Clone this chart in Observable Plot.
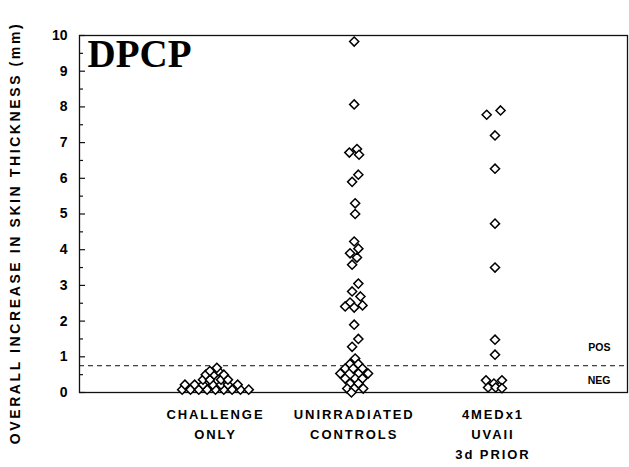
<!DOCTYPE html>
<html><head><meta charset="utf-8">
<script src="https://cdn.jsdelivr.net/npm/d3@7"></script>
<script src="https://cdn.jsdelivr.net/npm/@observablehq/plot@0.6"></script>
<style>
body{margin:0;background:#fff}
.xlab text{letter-spacing:1.9px}
.ylab text{letter-spacing:2.6px}
</style>
</head><body><div id="chart"></div>
<script>
// ---- data ----
const groups = ["CHALLENGE\nONLY", "UNIRRADIATED\nCONTROLS", "4MEDx1\nUVAII\n3d PRIOR"];
const groupPos = [1, 2, 3];

const challengeValues = [0.08,0.08,0.08,0.08,0.08,0.08,0.08,0.08,0.08,
  0.22,0.22,0.22,0.22,0.22,0.22,0.22,
  0.36,0.36,0.36,0.36,
  0.5,0.5,0.5,
  0.6,0.6,
  0.69];
const challengeSpread = [-0.24,-0.18,-0.12,-0.06,0,0.06,0.12,0.18,0.24,
  -0.22,-0.15,-0.09,-0.02,0.04,0.09,0.16,
  -0.09,-0.04,0.04,0.09,
  -0.07,-0.01,0.06,
  -0.04,0.02,
  0.01];

const controlValues = [9.83,8.07,6.72,6.82,6.66,6.1,5.9,5.3,5.0,4.23,4.03,3.9,3.78,3.58,
  3.05,2.83,2.69,2.52,2.41,2.38,2.44,1.9,1.5,1.28,0.95,0.8,0.8,0.67,0.67,0.67,
  0.53,0.53,0.53,0.39,0.39,0.39,0.25,0.25,0.11,0.11,0.11,0.0];
const controlSpread = [0,0,-0.035,0.02,0.035,0.03,-0.015,0.007,0.007,0,0.03,-0.03,0.02,-0.015,
  0.03,-0.015,0.045,-0.03,-0.065,0,0.06,0,0.03,-0.015,0.007,-0.03,0.03,-0.065,-0.007,0.06,
  -0.1,0.03,0.1,-0.065,0.007,0.06,-0.03,0.03,-0.05,0,0.065,-0.02];

const priorValues = [7.78,7.9,7.2,6.27,4.73,3.5,1.48,1.06,0.34,0.34,0.25,0.14,0.14,0.12];
const priorSpread = [-0.045,0.055,0.015,0.015,0.015,0.015,0.015,0.015,-0.05,0.065,0.007,-0.035,0.02,0.065];

const cutoff = 0.75;
const thresholdLabels = ["POS", "NEG"];
const thresholdLabelValues = [1.25, 0.34];
const yTicks = [0,1,2,3,4,5,6,7,8,9,10];
const yMinorTicks = [0.5,1.5,2.5,3.5,4.5,5.5,6.5,7.5,8.5,9.5];
const yLabel = "OVERALL INCREASE IN SKIN THICKNESS (mm)";
const panelTitle = "DPCP";

// ---- table ----
const series = [[challengeValues, challengeSpread], [controlValues, controlSpread], [priorValues, priorSpread]];
const points = series.flatMap(([vals, spread], g) =>
  vals.map((v, i) => ({group: groups[g], x: groupPos[g] + spread[i], y: v})));

const W = 629, H = 467, ML = 79, MR = 2;
const frameW = W - ML - MR;

const chart = Plot.plot({
  width: W, height: H,
  marginLeft: ML, marginRight: MR, marginTop: 35, marginBottom: 75,
  x: {domain: [0.02, 3.97], axis: null},
  y: {domain: [0, 10], axis: null},
  style: {fontFamily: "'Liberation Sans', Arial, sans-serif", fontSize: "13px", color: "#000", background: "#fff"},
  marks: [
    Plot.frame({stroke: "#111", strokeWidth: 1.3}),
    Plot.ruleY([cutoff], {stroke: "#111", strokeWidth: 1, strokeDasharray: "5,4"}),
    // short inward ticks on the left edge
    Plot.tickY(yTicks, {y: d => d, insetRight: frameW - 6, stroke: "#111", strokeWidth: 1.2}),
    Plot.tickY(yMinorTicks, {y: d => d, insetRight: frameW - 4, stroke: "#111", strokeWidth: 1.2}),
    Plot.axisY({ticks: yTicks, tickSize: 0, tickPadding: 12, fontSize: 14, fontWeight: "bold", label: null, fill: "#000"}),
    Plot.dot(points, {x: "x", y: "y", symbol: "diamond2", r: 4.1, stroke: "#000", fill: "#fff", strokeWidth: 1.5}),
    Plot.text(thresholdLabels, {y: (d, i) => thresholdLabelValues[i], text: d => d, frameAnchor: "right", dx: -17, textAnchor: "end", fontSize: 10.5, fontWeight: "bold", fill: "#000"}),
    Plot.text([panelTitle], {frameAnchor: "top-left", dx: 8, dy: 4, textAnchor: "start", lineAnchor: "top", fontFamily: "'Liberation Serif', 'Times New Roman', serif", fontWeight: "bold", fontSize: 39, fill: "#000"}),
    Plot.text(groups, {x: (d, i) => groupPos[i], text: d => d, frameAnchor: "bottom", textAnchor: "middle", lineAnchor: "top", dy: 12, lineHeight: 1.55, fontSize: 13, fontWeight: "bold", fill: "#000", className: "xlab"}),
    Plot.text([yLabel], {frameAnchor: "left", textAnchor: "middle", rotate: -90, dx: -64, dy: 19, fontSize: 14, fontWeight: "bold", fill: "#000", className: "ylab"})
  ]
});
document.getElementById("chart").appendChild(chart);
</script>
</body></html>
